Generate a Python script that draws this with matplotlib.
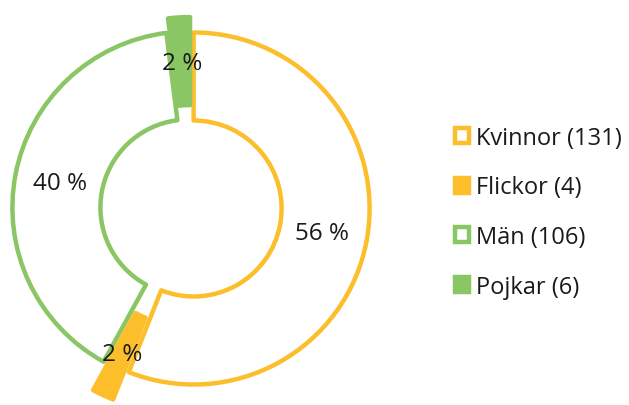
import numpy as np
import matplotlib
matplotlib.use("Agg")
import matplotlib.pyplot as plt
from matplotlib.patches import Patch

plt.rcParams['font.family'] = ['Open Sans', 'DejaVu Sans']

# Data
categories = ['Kvinnor', 'Flickor', 'Män', 'Pojkar']
counts = [131, 4, 106, 6]
shares = [56, 2, 40, 2]  # percent shown on the chart
pct_labels = ['56 %', '2 %', '40 %', '2 %']

orange = '#FDBE2C'
green = '#8AC664'
colors = [orange, orange, green, green]
filled = [False, True, False, True]
explode = [0.015, 0.175, 0.015, 0.085]

fig = plt.figure(figsize=(6.29, 4.06), dpi=100, facecolor='white')
ax = fig.add_axes([0, 0, 1, 1])

W, H = 629, 406
cx, cy, R = 191, 209, 176  # pixel centre / radius of the ring

wedges, _ = ax.pie(shares, startangle=90, counterclock=False, explode=explode,
                   radius=1.0, wedgeprops=dict(width=0.5, linewidth=3.2,
                                                joinstyle='round'))
for w, c, f in zip(wedges, colors, filled):
    w.set_edgecolor(c)
    w.set_facecolor(c if f else 'white')
    w.set_zorder(3 if f else 2)

# percent labels at wedge middle
for w, lab, ex in zip(wedges, pct_labels, explode):
    ang = np.deg2rad((w.theta1 + w.theta2) / 2)
    r = 0.74 + ex
    ax.text(r * np.cos(ang), r * np.sin(ang), lab, ha='center', va='center',
            fontsize=17.5, color='#1a1a1a', zorder=5)

ax.set_aspect('auto')
ax.set_xlim(-cx / R, (W - cx) / R)
ax.set_ylim(-(H - cy) / R, cy / R)
ax.axis('off')

handles = []
for c, f in zip(colors, filled):
    handles.append(Patch(facecolor=c if f else 'white', edgecolor=c, linewidth=3.2))
labels = [f'{n} ({v})' for n, v in zip(categories, counts)]
leg = ax.legend(handles, labels, loc='upper left', bbox_to_anchor=(455 / W, 1 - 127 / H),
                frameon=False, fontsize=17, handlelength=0.58, handleheight=0.58,
                handletextpad=0.3, labelspacing=1.08, borderpad=0, borderaxespad=0)
for t in leg.get_texts():
    t.set_color('#1a1a1a')

fig.savefig('out.png', dpi=100, facecolor='white')
